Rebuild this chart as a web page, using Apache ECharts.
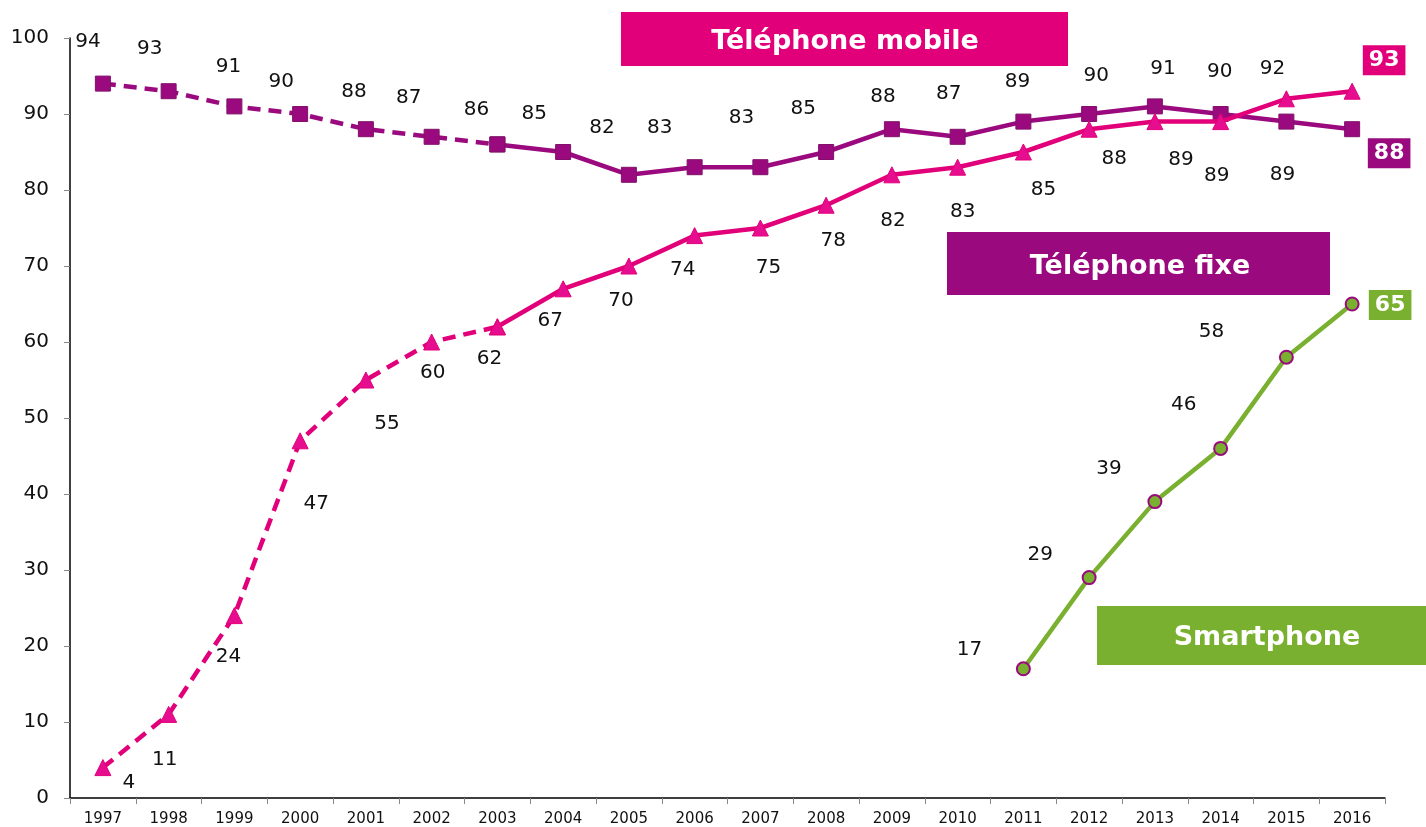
<!DOCTYPE html>
<html><head><meta charset="utf-8">
<script src="https://cdn.jsdelivr.net/npm/echarts@6/dist/echarts.min.js"></script>
<style>html,body{margin:0;padding:0;background:#fff}#c{width:1426px;height:827px}</style>
</head><body><div id="c"></div>
<script>
const years = ['1997','1998','1999','2000','2001','2002','2003','2004','2005','2006','2007','2008','2009','2010','2011','2012','2013','2014','2015','2016'];
const fixe = [94,93,91,90,88,87,86,85,82,83,83,85,88,87,89,90,91,90,89,88];
const mobile = [4,11,24,47,55,60,62,67,70,74,75,78,82,83,85,88,89,89,92,93];
const smartphone = [null,null,null,null,null,null,null,null,null,null,null,null,null,null,17,29,39,46,58,65];
const yTicks = [0,10,20,30,40,50,60,70,80,90,100];
const dashedUntil = 6; // index of 2003

// label offsets (pixels, style only)
const fixeOff = [[-15,-42],[-19,-42],[-6,-40],[-19,-32],[-12,-37],[-23,-39],[-21,-35],[-29,-38],[-27,-47],[-35,-39],[-19,-49],[-23,-43],[-9,-32],[-9,-43],[-6,-40],[7,-38],[8,-38],[-1,-42],[-4,53],[37,24]];
const mobileOff = [[26,15],[-4,45],[-6,41],[16,63],[21,44],[1,31],[-8,32],[-13,32],[-8,35],[-12,34],[8,40],[7,36],[1,46],[5,45],[20,38],[25,30],[26,38],[-4,54],[-14,-30],[32,-31]];
const smartOff = [[-54,-19],[-49,-23],[-46,-33],[-37,-44],[-75,-25],[38,1]];

const C_FIXE = '#9A0A7E', C_MOB = '#E2007A', C_SM = '#7AB02F';
const last = years.length - 1;

function boxLabel(o, color) {
  return { show: true, position: 'inside', offset: o, formatter: '{c}',
    color: '#fff', fontWeight: 'bold', fontSize: 22, backgroundColor: color,
    padding: [5, 6, 3, 6], fontFamily: 'DejaVu Sans' };
}
// labelFrom: first index that gets a label in this piece (avoid duplicate at the join)
function mkData(vals, offs, color, from, to, labelFrom) {
  return vals.map((v, i) => {
    if (v === null || i < from || i > to) return null;
    const o = offs[i];
    let label;
    if (i < labelFrom) label = { show: false };
    else if (i === last) label = boxLabel(o, color);
    else label = { show: true, position: 'inside', offset: o, formatter: '{c}' };
    return { value: v, label };
  });
}
function smData() {
  let k = 0;
  return smartphone.map((v, i) => {
    if (v === null) return null;
    const o = smartOff[k++];
    return { value: v, label: i === last ? boxLabel(o, C_SM) : { show: true, position: 'inside', offset: o, formatter: '{c}' } };
  });
}

const baseLabel = { color: '#111', fontSize: 20, fontFamily: 'DejaVu Sans' };

const chart = echarts.init(document.getElementById('c'));
chart.setOption({
  animation: false,
  grid: { left: 70, right: 41, top: 38, bottom: 29 },
  xAxis: {
    type: 'category', data: years, boundaryGap: true,
    axisLine: { lineStyle: { color: '#000', width: 1.5 } },
    axisTick: { show: true, length: 6, lineStyle: { color: '#888' } },
    axisLabel: { color: '#111', fontSize: 15, fontFamily: 'DejaVu Sans', margin: 14 },
    splitLine: { show: false }
  },
  yAxis: {
    type: 'value', min: 0, max: 100, interval: 10,
    axisLine: { show: true, lineStyle: { color: '#000', width: 1.5 } },
    axisTick: { show: true, length: 6, lineStyle: { color: '#888' } },
    axisLabel: { color: '#111', fontSize: 20, fontFamily: 'DejaVu Sans', margin: 21,
      formatter: v => yTicks.includes(v) ? String(v) : '' },
    splitLine: { show: false }
  },
  series: [
    { type: 'line', name: 'mobile dashed', data: mkData(mobile, mobileOff, C_MOB, 0, dashedUntil, 0),
      symbol: 'triangle', symbolSize: 16, itemStyle: { color: '#E60E8F', borderColor: C_MOB, borderWidth: 1 },
      lineStyle: { color: C_MOB, width: 4.5, type: [13, 8] }, label: baseLabel, z: 3 },
    { type: 'line', name: 'mobile', data: mkData(mobile, mobileOff, C_MOB, dashedUntil, last, dashedUntil + 1),
      symbol: 'triangle', symbolSize: 16, itemStyle: { color: '#E60E8F', borderColor: C_MOB, borderWidth: 1 },
      lineStyle: { color: C_MOB, width: 4.5 }, label: baseLabel, z: 3 },
    { type: 'line', name: 'fixe dashed', data: mkData(fixe, fixeOff, C_FIXE, 0, dashedUntil, 0),
      symbol: 'rect', symbolSize: 15, itemStyle: { color: C_FIXE, borderColor: '#80106A', borderWidth: 1 },
      lineStyle: { color: C_FIXE, width: 4.5, type: [13, 8] }, label: baseLabel, z: 2 },
    { type: 'line', name: 'fixe', data: mkData(fixe, fixeOff, C_FIXE, dashedUntil, last, dashedUntil + 1),
      symbol: 'rect', symbolSize: 15, itemStyle: { color: C_FIXE, borderColor: '#80106A', borderWidth: 1 },
      lineStyle: { color: C_FIXE, width: 4.5 }, label: baseLabel, z: 2 },
    { type: 'line', name: 'smartphone', data: smData(),
      symbol: 'circle', symbolSize: 13, itemStyle: { color: C_SM, borderColor: C_FIXE, borderWidth: 2 },
      lineStyle: { color: C_SM, width: 4.5 }, label: baseLabel, z: 4 }
  ],
  graphic: [
    { type: 'group', left: 621, top: 12, children: [
      { type: 'rect', shape: { x: 0, y: 0, width: 447, height: 54 }, style: { fill: '#E2007A' } },
      { type: 'text', x: 224, y: 30, style: { text: 'Téléphone mobile', fill: '#fff', font: 'bold 27px "DejaVu Sans"', textAlign: 'center', textVerticalAlign: 'middle' } }
    ]},
    { type: 'group', left: 947, top: 232, children: [
      { type: 'rect', shape: { x: 0, y: 0, width: 383, height: 63 }, style: { fill: '#9A0A7E' } },
      { type: 'text', x: 193, y: 35, style: { text: 'Téléphone fixe', fill: '#fff', font: 'bold 27px "DejaVu Sans"', textAlign: 'center', textVerticalAlign: 'middle' } }
    ]},
    { type: 'group', left: 1097, top: 606, children: [
      { type: 'rect', shape: { x: 0, y: 0, width: 329, height: 59 }, style: { fill: '#7AB02F' } },
      { type: 'text', x: 170, y: 32, style: { text: 'Smartphone', fill: '#fff', font: 'bold 27px "DejaVu Sans"', textAlign: 'center', textVerticalAlign: 'middle' } }
    ]}
  ]
});
</script></body></html>
